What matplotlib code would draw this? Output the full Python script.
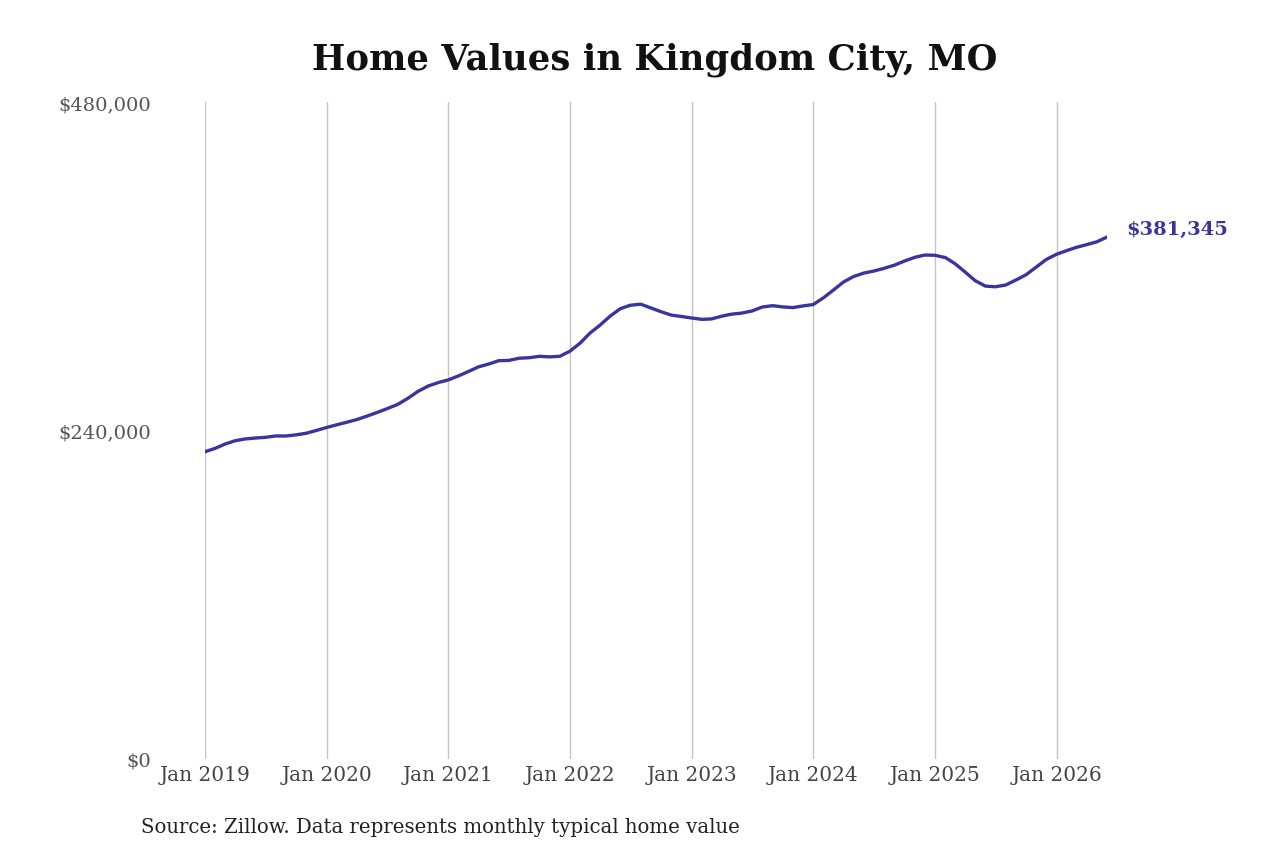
import matplotlib
matplotlib.use("Agg")
import matplotlib.pyplot as plt
import pandas as pd

title = "Home Values in Kingdom City, MO"
source = "Source: Zillow. Data represents monthly typical home value"
start_month = "2019-01-01"
values = [
    224500, 227000, 230000, 232500, 233800, 234500, 235000, 236000, 236000, 236800, 238000, 240000,
    242200, 244200, 246000, 248000, 250500, 253200, 256000, 259000, 263500, 268500, 272500, 275000,
    277000, 280000, 283000, 286500, 288500, 291000, 291200, 292800, 293200, 294200, 293800, 294200,
    298000, 304000, 311000, 317000, 323500, 329000, 331500, 332300, 329500, 326800, 324300, 323300,
    322200, 321200, 321500, 323500, 325000, 325800, 327300, 330200, 331200, 330300, 329800, 331000,
    332000, 337000, 342500, 348500, 352500, 355000, 356500, 358500, 360800, 363800, 366500, 368200,
    368000, 366300, 362000, 355800, 349500, 345500, 345000, 346300, 350000, 353800, 359500, 365000,
    368800, 371500, 373800, 375800, 377800, 381345,
]
y_ticks = [0, 240000, 480000]
y_tick_labels = ["$0", "$240,000", "$480,000"]
x_tick_years = [2019, 2020, 2021, 2022, 2023, 2024, 2025, 2026]

line_color = "#3a349e"
dates = pd.date_range(start_month, periods=len(values), freq="MS")

plt.rcParams["font.family"] = ["DejaVu Serif"]
fig = plt.figure(figsize=(12.8, 8.53), dpi=100)
ax = fig.add_axes([205 / 1280, 93 / 853, (1107 - 205) / 1280, (760 - 103) / 853])

ax.plot(dates, values, color=line_color, linewidth=2.4, solid_capstyle="round")
ax.set_xlim(dates[0], dates[-1])
ax.set_ylim(0, 480000)

ax.set_yticks(y_ticks)
ax.set_yticklabels(y_tick_labels, fontsize=14, color="#555555")
xt = [pd.Timestamp(f"{y}-01-01") for y in x_tick_years]
ax.set_xticks(xt)
ax.set_xticklabels([f"Jan {y}" for y in x_tick_years], fontsize=14.5, color="#444444")
ax.tick_params(axis="y", length=0, pad=39)
ax.tick_params(axis="x", length=0, pad=4)
ax.grid(axis="x", color="#c4c4c4", linewidth=1)
ax.grid(axis="y", visible=False)
for s in ax.spines.values():
    s.set_visible(False)

ax.annotate(f"${values[-1]:,}", xy=(dates[-1], values[-1]), xytext=(14, 6),
            textcoords="offset points", fontsize=14, fontweight="bold",
            color=line_color, va="center", ha="left", annotation_clip=False)

fig.text(655 / 1280, 1 - 60 / 853, title, fontsize=25.5, fontweight="bold",
         ha="center", va="center", color="#111111")
fig.text(141 / 1280, 1 - 828 / 853, source, fontsize=14.2, ha="left",
         va="center", color="#222222")

fig.savefig("out.png", dpi=100, facecolor="white")
